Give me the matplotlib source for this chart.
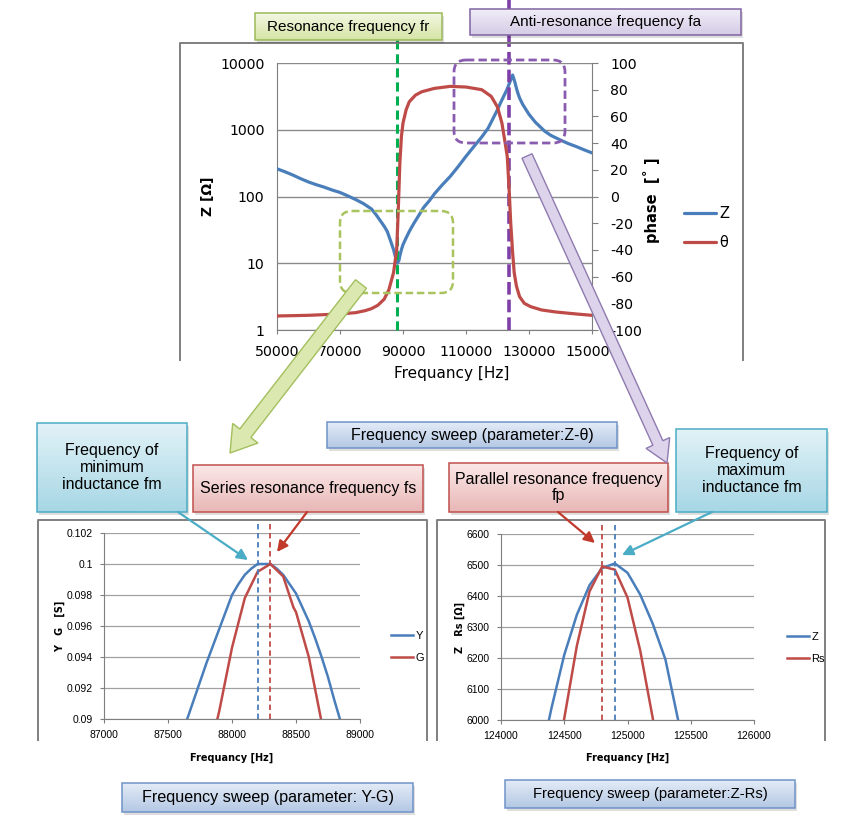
import matplotlib
matplotlib.use("Agg")
import matplotlib.pyplot as plt
import numpy as np
from matplotlib.patches import Rectangle, FancyBboxPatch, FancyArrow
from matplotlib.colors import LinearSegmentedColormap
from matplotlib.ticker import NullLocator

# top chart: impedance sweep Z / phase
z_freq = [50000, 52500, 55000, 57500, 60000, 62500, 65000, 67500, 70000, 72500, 75000, 77500,
          80000, 81500, 83000, 84000, 85000, 86000, 87000, 87500, 88200,
          88700, 89000, 89500, 90000, 91000, 92000, 93500, 95000, 96500, 98500, 100000,
          102500, 105000, 107500, 110000, 112500, 115000, 117000, 118000,
          120000, 121000, 122000, 123000, 123500, 124000, 124800, 125500, 126000, 126500, 127000,
          128000, 130000, 132000, 135000, 137000, 140000, 142500, 145000, 147500, 150000]
z_vals = [260, 235, 210, 185, 165, 150, 138, 125, 115, 102, 90, 78,
          65, 53, 42, 36, 30, 22, 16, 13, 10,
          11, 13, 16, 19, 24, 30, 40, 52, 68, 88, 110,
          150, 200, 280, 400, 560, 780, 1050, 1300,
          2000, 2550, 3200, 4000, 4600, 5300, 6600, 5200, 4200, 3500, 3000,
          2400, 1700, 1300, 950, 820, 700, 620, 560, 500, 450]

ph_freq = [50000, 60000, 70000, 75000, 78000, 80000, 82000, 84000, 85500, 87000, 88000,
           88500, 89000, 89500, 90000, 91000, 92000, 94000, 96000, 100000, 105000, 110000,
           115000, 118000, 120000, 121400, 122300, 123100, 123700, 124200, 124800, 125300,
           126000, 127000, 128500, 130500, 134000, 138500, 145000, 150000]
ph_vals = [-89.5, -89, -88, -87, -85.5, -84, -81.5, -77, -70, -57, -40,
           -10, 25, 45, 55, 65, 71, 76, 78.5, 81, 82.5, 82,
           80, 75, 67, 55, 42, 30, 5, -20, -42, -57,
           -67, -75, -80, -82.5, -85, -86.5, -88, -89]
fr = 88200
fa = 123700

# bottom left: Y-G sweep
y_freq = [87600, 87650, 87700, 87750, 87800, 87850, 87900, 87950, 88000, 88050, 88100, 88150,
          88200, 88250, 88300, 88350, 88400, 88450, 88500, 88550, 88600, 88650, 88700, 88750,
          88800, 88850]
y_vals = [0.0888, 0.0900, 0.0912, 0.0924, 0.0936, 0.0947, 0.0958, 0.0969, 0.0980, 0.0987, 0.0993, 0.0997,
          0.1000, 0.1000, 0.1000, 0.0997, 0.0993, 0.0987, 0.0981, 0.0972, 0.0963, 0.0952, 0.0940, 0.0927,
          0.0912, 0.0898]
g_freq = [87800, 87900, 88000, 88100, 88200, 88300, 88400, 88480, 88500, 88600, 88700]
g_vals = [0.0870, 0.0905, 0.0946, 0.0978, 0.0995, 0.1000, 0.0992, 0.0972, 0.0969, 0.0940, 0.0898]
fm_low = 88200
fs = 88300

# bottom right: Z-Rs sweep
zr_freq = [124300, 124400, 124500, 124600, 124700, 124800, 124900, 125000, 125100, 125200,
           125300, 125400, 125500]
zr_vals = [5850, 6040, 6210, 6340, 6435, 6490, 6505, 6475, 6405, 6310, 6195, 6000, 5800]
rs_freq = [124400, 124500, 124600, 124700, 124800, 124900, 125000, 125100, 125200, 125300]
rs_vals = [5780, 6005, 6240, 6415, 6495, 6485, 6395, 6225, 6005, 5780]
fp = 124800
fm_high = 124900

W, H = 858, 838
blue = '#4a7ebb'
red = '#be4b48'
grid_c = '#8a8a8a'
frame_c = '#7f7f7f'
sans = ['Liberation Sans', 'DejaVu Sans']

fig = plt.figure(figsize=(W / 100, H / 100), dpi=100)


def px_axes(l, t, r, b, **kw):
    return fig.add_axes([l / W, 1 - b / H, (r - l) / W, (b - t) / H], **kw)


# ---------- top chart ----------
ax = px_axes(277, 63, 592, 330)
ax.set_yscale('log')
lz, = ax.plot(z_freq, z_vals, color=blue, lw=2.3, zorder=3, solid_capstyle='round')
ax.set_xlim(50000, 150000)
ax.set_ylim(1, 10000)
ax.set_yticks([1, 10, 100, 1000, 10000])
ax.set_yticklabels(['1', '10', '100', '1000', '10000'])
ax.yaxis.set_minor_locator(NullLocator())
ax.set_xticks(list(range(50000, 150001, 20000)))
ax.set_xticklabels([str(v) for v in range(50000, 150001, 20000)])
ax.grid(axis='y', color=grid_c, lw=1)
ax.tick_params(axis='y', length=0, pad=9, labelsize=10.2)
ax.tick_params(axis='x', length=3, color=frame_c, pad=8, labelsize=10.2)
for s in ['top', 'right']:
    ax.spines[s].set_visible(False)
for s in ['left', 'bottom']:
    ax.spines[s].set_color(frame_c)
ax.set_ylabel('Z [Ω]', fontsize=10, fontweight='bold')
ax.yaxis.set_label_coords((208 - 277) / 315, 0.5)
ax.yaxis.label.set_va('center')
ax.set_xlabel('Frequancy [Hz]', fontsize=11)
ax.xaxis.set_label_coords((452 - 277) / 315, -(373 - 330) / 267)
ax.xaxis.label.set_va('center')
ax.axvline(fr, 0, (330 - 40) / 267, color='#00b050', lw=2.2, ls=(0, (3, 1.6)), clip_on=False, zorder=4)
ax.axvline(fa, 0, 330 / 267, color='#7f3fa8', lw=2.6, ls=(0, (3.5, 1.4)), clip_on=False, zorder=4)

ax2 = ax.twinx()
lt, = ax2.plot(ph_freq, ph_vals, color=red, lw=2.3, zorder=3, solid_capstyle='round')
ax2.set_ylim(-100, 100)
ax2.set_yticks(list(range(-100, 101, 20)))
ax2.set_yticklabels([str(v) for v in range(-100, 101, 20)])
ax2.tick_params(axis='y', length=4, color=frame_c, pad=9, labelsize=10.2)
for s in ['top', 'left', 'bottom']:
    ax2.spines[s].set_visible(False)
ax2.spines['right'].set_color(frame_c)
ax2.set_ylabel('phase  [˚ ]', fontsize=10.5, fontweight='bold')
ax2.yaxis.set_label_coords((652 - 277) / 315, (330 - 200) / 267)
ax2.yaxis.label.set_va('center')

fig.legend(handles=[lz, lt], labels=['Z', 'θ'], loc='center left',
           bbox_to_anchor=(684 / W, 1 - 228 / H), frameon=False, fontsize=10.5,
           handlelength=2.2, handletextpad=0.2, labelspacing=1.0, borderpad=0, borderaxespad=0)


# ---------- bottom charts ----------
def small_chart(l, t, r, b, f1, v1, f2, v2, lab1, lab2, xlim, ylim, yticks, ylabels, ylab,
                ylab_x, lines, leg_x, leg_y):
    a = px_axes(l, t, r, b)
    h1, = a.plot(f1, v1, color=blue, lw=1.8)
    h2, = a.plot(f2, v2, color=red, lw=1.8)
    a.set_xlim(*xlim)
    a.set_ylim(*ylim)
    xt = list(range(xlim[0], xlim[1] + 1, 500))
    a.set_xticks(xt)
    a.set_xticklabels([str(v) for v in xt], fontfamily=sans)
    a.set_yticks(yticks)
    a.set_yticklabels(ylabels, fontfamily=sans)
    a.grid(axis='y', color='#a0a0a0', lw=0.9)
    a.tick_params(length=3, color=frame_c, labelsize=7.5, pad=5)
    for s in ['top', 'right']:
        a.spines[s].set_visible(False)
    for s in ['left', 'bottom']:
        a.spines[s].set_color(frame_c)
    for fx, col in lines:
        a.axvline(fx, 0, 1.055, color=col, lw=1.3, ls=(0, (3, 2)), clip_on=False)
    a.set_ylabel(ylab, fontsize=7, fontweight='bold')
    a.yaxis.set_label_coords((ylab_x - l) / (r - l), 0.5)
    a.yaxis.label.set_va('center')
    a.set_xlabel('Frequancy [Hz]', fontsize=7, fontweight='bold')
    a.xaxis.set_label_coords(0.5, -(758 - b) / (b - t))
    a.xaxis.label.set_va('center')
    a.legend(handles=[h1, h2], labels=[lab1, lab2], loc='center left',
             bbox_to_anchor=(leg_x / W, 1 - leg_y / H), bbox_transform=fig.transFigure,
             frameon=False, prop={'family': sans, 'size': 8}, handlelength=2.0, handletextpad=0.2,
             labelspacing=1.1, borderpad=0, borderaxespad=0)
    return a


small_chart(104, 533, 360, 719, y_freq, y_vals, g_freq, g_vals, 'Y', 'G',
            (87000, 89000), (0.09, 0.102),
            [0.09, 0.092, 0.094, 0.096, 0.098, 0.1, 0.102],
            ['0.09', '0.092', '0.094', '0.096', '0.098', '0.1', '0.102'],
            'Y   G   [S]', 60, [(fm_low, blue), (fs, red)], 391, 647)

small_chart(501, 534, 754, 720, zr_freq, zr_vals, rs_freq, rs_vals, 'Z', 'Rs',
            (124000, 126000), (6000, 6600),
            [6000, 6100, 6200, 6300, 6400, 6500, 6600],
            ['6000', '6100', '6200', '6300', '6400', '6500', '6600'],
            'Z   Rs [Ω]', 460, [(fp, red), (fm_high, blue)], 787, 648)

# ---------- overlay: boxes, frames, arrows ----------
ov = fig.add_axes([0, 0, 1, 1], zorder=20)
ov.patch.set_visible(False)
ov.axis('off')


def grad_box(l, t, r, b, c1, c2, ec, text, size=11, shadow=True):
    if shadow:
        ov.add_patch(Rectangle((l + 2, t + 3), r - l, b - t, fc='#000000', alpha=0.13, lw=0, zorder=1))
    rect = Rectangle((l, t), r - l, b - t, fc='none', ec=ec, lw=1.1, zorder=3)
    ov.add_patch(rect)
    cmap = LinearSegmentedColormap.from_list('g', [c1, c2])
    im = ov.imshow(np.linspace(0, 1, 64).reshape(-1, 1), extent=(l, r, b, t), cmap=cmap,
                   aspect='auto', zorder=2, interpolation='bilinear')
    im.set_clip_path(rect)
    ov.text((l + r) / 2, (t + b) / 2, text, ha='center', va='center', fontsize=size,
            family=sans, zorder=4, linespacing=1.15)


def frame(l, t, r, b):
    ov.plot([l, l, r, r], [b, t, t, b], color=frame_c, lw=1.4, zorder=1)


frame(180, 43, 743, 360)
frame(38, 520, 427, 740)
frame(437, 520, 825, 740)

# dashed highlight boxes on top chart
ov.add_patch(FancyBboxPatch((340, 211), 113, 82, boxstyle='round,pad=0,rounding_size=12',
                            fill=False, ec='#a9c35f', lw=1.8, ls=(0, (3, 1.5)), zorder=2))
ov.add_patch(FancyBboxPatch((454, 60), 111, 83, boxstyle='round,pad=0,rounding_size=12',
                            fill=False, ec='#8a5cb0', lw=2.0, ls=(0, (3, 1.5)), zorder=2))

# big block arrows
ov.add_patch(FancyArrow(361, 284, 230 - 361, 453 - 284, width=14, head_width=32, head_length=25,
                        length_includes_head=True, fc='#dbe8b0', ec='#a3bf5e', lw=1.0, zorder=5))
ov.add_patch(FancyArrow(527, 156, 667 - 527, 463 - 156, width=11, head_width=26, head_length=22,
                        length_includes_head=True, fc='#ddd3ea', ec='#8f7bb0', lw=1.0, zorder=5))

green1, green2, green_e = '#f2f7e2', '#d6e4a6', '#9bbb59'
lav1, lav2, lav_e = '#f1eef7', '#d5cbe6', '#8064a2'
bl1, bl2, bl_e = '#e3ebf6', '#b4c8e4', '#6f93c8'
cy1, cy2, cy_e = '#e2f2f7', '#a7d7e5', '#4bacc6'
pk1, pk2, pk_e = '#fbe8e8', '#e8b7b6', '#c0504d'

grad_box(255, 13, 442, 40, green1, green2, green_e, 'Resonance frequency fr')
grad_box(470, 9, 741, 35, lav1, lav2, lav_e, 'Anti-resonance frequency fa')
grad_box(327, 422, 617, 448, bl1, bl2, bl_e, 'Frequency sweep (parameter:Z-θ)', size=11.5)
grad_box(37, 423, 187, 512, cy1, cy2, cy_e, 'Frequency of\nminimum\ninductance fm', size=11.5)
grad_box(193, 465, 423, 512, pk1, pk2, pk_e, 'Series resonance frequency fs', size=11.5)
grad_box(449, 463, 668, 512, pk1, pk2, pk_e, 'Parallel resonance frequency\nfp', size=11.5)
grad_box(676, 429, 827, 512, cy1, cy2, cy_e, 'Frequency of\nmaximum\ninductance fm', size=11.5)
grad_box(122, 783, 413, 812, bl1, bl2, bl_e, 'Frequency sweep (parameter: Y-G)', size=11.6)
grad_box(505, 780, 795, 808, bl1, bl2, bl_e, 'Frequency sweep (parameter:Z-Rs)', size=10.6)

# thin pointer arrows
for (x0, y0, x1, y1, col) in [(178, 512, 248, 560, '#4bacc6'), (307, 512, 277, 552, '#c0392b'),
                              (558, 512, 595, 543, '#c0392b'), (712, 512, 622, 555, '#4bacc6')]:
    ov.annotate('', xy=(x1, y1), xytext=(x0, y0),
                arrowprops=dict(arrowstyle='-|>', color=col, lw=1.6, mutation_scale=16,
                                shrinkA=0, shrinkB=0), zorder=6)

ov.set_xlim(0, W)
ov.set_ylim(H, 0)

fig.savefig('out.png', dpi=100)
